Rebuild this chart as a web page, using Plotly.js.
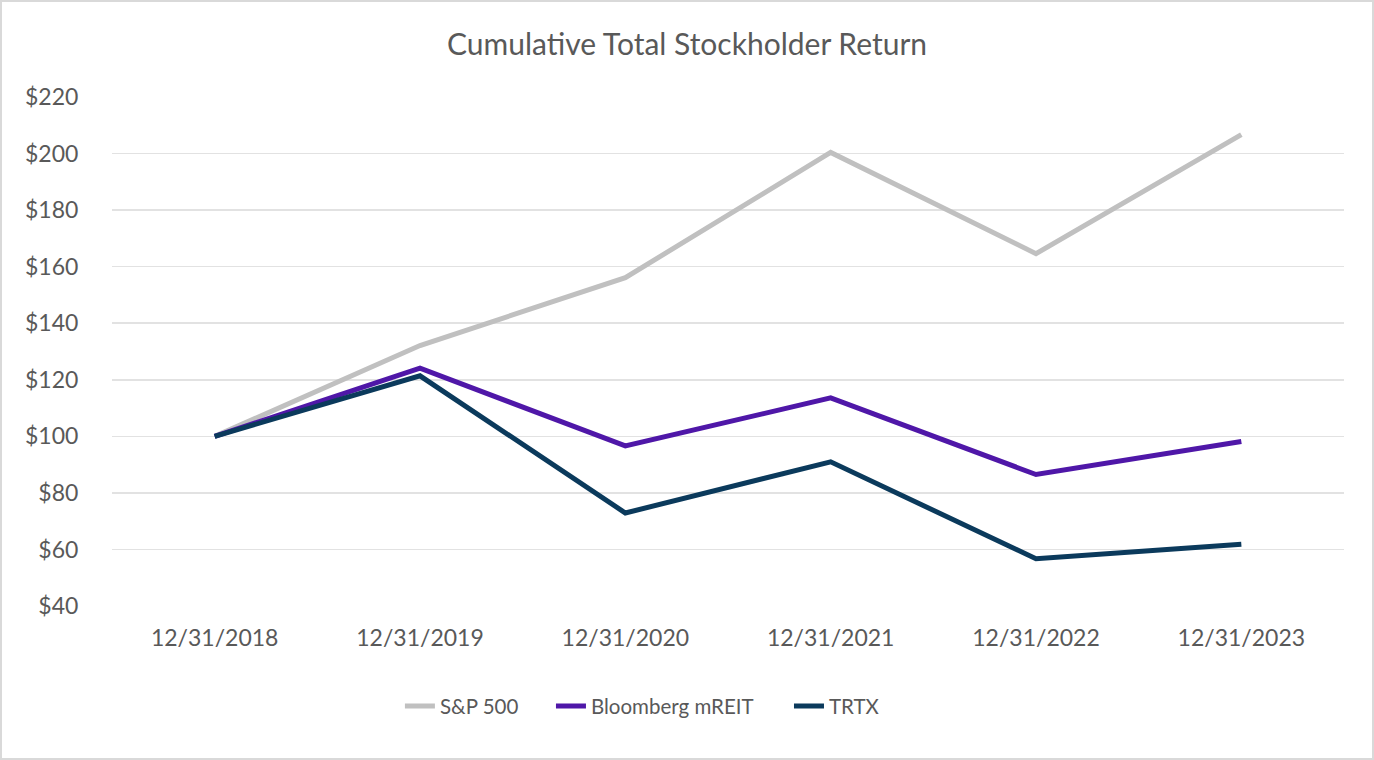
<!DOCTYPE html>
<html><head><meta charset="utf-8">
<script src="https://cdn.plot.ly/plotly-3.0.1.min.js"></script>
<style>html,body{margin:0;padding:0;background:#fff;}#c{width:1370px;height:756px;border:2px solid #d9d9d9;}</style>
</head><body><div id="c"></div>
<script>
const categories = ["12/31/2018","12/31/2019","12/31/2020","12/31/2021","12/31/2022","12/31/2023"];
const sp500 = [100, 132.1, 156.1, 200.4, 164.6, 206.7];
const bloomberg = [100, 124.1, 96.6, 113.6, 86.5, 98.2];
const trtx = [100, 121.4, 72.9, 91.0, 56.7, 61.8];
const yTicks = [40,60,80,100,120,140,160,180,200,220];
const yTickLabels = yTicks.map(v => "$" + v);

const font = "Lato, 'Open Sans', sans-serif";
const traces = [
  {x: categories, y: sp500, name: "S&P 500", type: "scatter", mode: "lines", line: {color: "#c0c0c0", width: 5}, legend: "legend"},
  {x: categories, y: bloomberg, name: "Bloomberg mREIT", type: "scatter", mode: "lines", line: {color: "#4f17a8", width: 5}, legend: "legend2"},
  {x: categories, y: trtx, name: "TRTX", type: "scatter", mode: "lines", line: {color: "#0b3a5c", width: 5}, legend: "legend3"}
];
const legBase = {orientation: "h", y: -0.197, yanchor: "middle", xanchor: "left", font: {size: 20.5, color: "#595959"}, bgcolor: "rgba(0,0,0,0)"};
const layout = {
  width: 1370, height: 756,
  margin: {l: 110, r: 28, t: 95, b: 152},
  paper_bgcolor: "#fff", plot_bgcolor: "#fff",
  font: {family: font, color: "#595959", size: 22},
  title: {text: "Cumulative Total Stockholder Return", font: {family: font, size: 30, color: "#595959"}, x: 0.5, xanchor: "center", y: 1 - 42/756, yanchor: "middle"},
  xaxis: {type: "category", range: [-0.5, 5.5], showgrid: false, zeroline: false, showline: false,
          ticks: "outside", ticklen: 11, tickcolor: "rgba(0,0,0,0)", tickfont: {size: 23, color: "#595959"}},
  yaxis: {range: [40, 220], tickvals: yTicks, ticktext: yTickLabels, showgrid: true, gridcolor: "#e2e2e2", gridwidth: 1.5,
          zeroline: false, showline: false, ticks: "outside", ticklen: 28, tickcolor: "rgba(0,0,0,0)", tickfont: {size: 23, color: "#595959"}},
  legend: Object.assign({}, legBase, {x: 0.2337}),
  legend2: Object.assign({}, legBase, {x: 0.3563}),
  legend3: Object.assign({}, legBase, {x: 0.5495}),
  showlegend: true
};
Plotly.newPlot("c", traces, layout, {displayModeBar: false, staticPlot: true});
</script></body></html>
